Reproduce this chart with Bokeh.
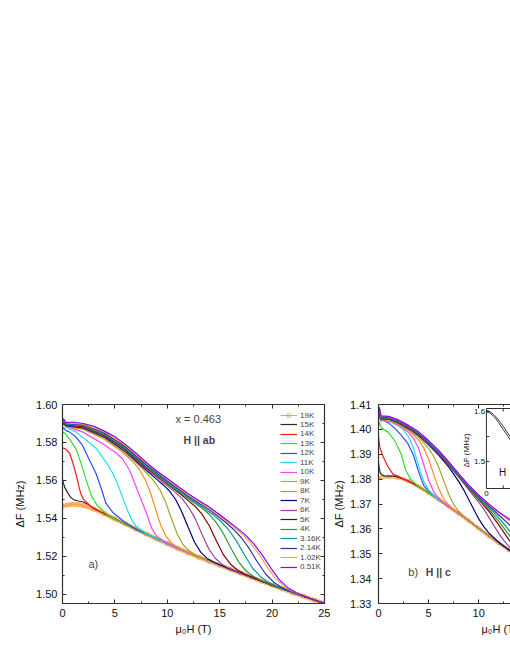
import math
from bokeh.plotting import figure
from bokeh.models import (Range1d, LinearAxis, FixedTicker, Legend, LegendItem, Label, Title,
                          NumeralTickFormatter, CustomJSTickFormatter)
from bokeh.layouts import row
from bokeh.embed import file_html
from bokeh.resources import INLINE
from bokeh.core.properties import value

FONT = "Liberation Sans"
INK = "#303030"

# ---------------- panel a) H || ab  (x = 0.463) ----------------
H_A_19K = [0, 0.5, 1, 1.5, 2, 3, 4, 5, 6, 7, 8, 9, 10, 11, 12, 13, 14, 15, 16, 17, 18, 19, 20, 21, 22, 23, 24, 25]
F_A_19K = [1.5465, 1.5471, 1.5475, 1.5473, 1.5468, 1.5450, 1.5425, 1.5398, 1.5372, 1.5345, 1.5318, 1.5292, 1.5268, 1.5243,
           1.5220, 1.5196, 1.5175, 1.5154, 1.5133, 1.5112, 1.5091, 1.5070, 1.5049, 1.5029, 1.5009, 1.4990, 1.4971, 1.4953]
H_A_15K = [0, 0.2, 0.5, 0.8, 1.1, 1.5, 2, 2.5, 3, 4, 5, 7.5, 10, 12.5, 15, 17.5, 20, 22.5, 25]
F_A_15K = [1.5605, 1.5565, 1.5535, 1.5510, 1.5498, 1.5492, 1.5487, 1.5472, 1.5452, 1.5425, 1.5398, 1.5331, 1.5268, 1.5208,
           1.5154, 1.5102, 1.5049, 1.5000, 1.4953]
H_A_14K = [0, 0.3, 0.67, 0.95, 1.2, 1.43, 1.6, 1.75, 2.0, 2.2, 2.6, 3, 3.5, 4, 5, 7.5, 10, 12.5, 15, 17.5, 20, 22.5, 25]
F_A_14K = [1.5772, 1.5765, 1.5745, 1.5700, 1.5650, 1.5603, 1.5560, 1.5530, 1.5502, 1.5490, 1.5470, 1.5453, 1.5438, 1.5425,
           1.5398, 1.5331, 1.5268, 1.5208, 1.5154, 1.5102, 1.5049, 1.5000, 1.4953]
H_A_13K = [0, 0.1, 0.3, 0.64, 1.3, 1.8, 2.3, 2.8, 3.3, 3.8, 4.3, 5, 7.5, 10, 12.5, 15, 17.5, 20, 22.5, 25]
F_A_13K = [1.5847, 1.5855, 1.5843, 1.5820, 1.5765, 1.5685, 1.5595, 1.5515, 1.5470, 1.5445, 1.5420, 1.5398, 1.5331, 1.5268,
           1.5208, 1.5154, 1.5102, 1.5049, 1.5000, 1.4953]
H_A_12K = [0, 0.1, 0.3, 0.64, 1.27, 1.9, 2.5, 3.2, 3.7, 4.15, 4.8, 5.4, 6, 7, 10, 12.5, 15, 17.5, 20, 22.5, 25]
F_A_12K = [1.5866, 1.5878, 1.5864, 1.5856, 1.5830, 1.5786, 1.5716, 1.5637, 1.5558, 1.5479, 1.5432, 1.5405, 1.5378, 1.5345,
           1.5268, 1.5208, 1.5154, 1.5102, 1.5049, 1.5000, 1.4953]
H_A_11K = [0, 0.1, 0.3, 1.27, 2.5, 3.2, 3.8, 4.3, 4.8, 5.2, 5.6, 6.2, 6.6, 7, 8, 10, 12.5, 15, 17.5, 20, 22.5, 25]
F_A_11K = [1.5885, 1.5897, 1.5882, 1.5856, 1.5803, 1.5770, 1.5724, 1.5685, 1.5637, 1.5590, 1.5532, 1.5444, 1.5395, 1.5360,
           1.5320, 1.5268, 1.5208, 1.5154, 1.5102, 1.5049, 1.5000, 1.4953]
H_A_10K = [0, 0.1, 0.3, 1.9, 3.8, 5.0, 5.7, 6.4, 7.0, 7.5, 8.0, 8.5, 9.0, 10, 12.5, 15, 17.5, 20, 22.5, 25]
F_A_10K = [1.5890, 1.5903, 1.5886, 1.5856, 1.5795, 1.5750, 1.5716, 1.5655, 1.5570, 1.5500, 1.5430, 1.5350, 1.5305, 1.5270,
           1.5208, 1.5154, 1.5102, 1.5049, 1.5000, 1.4953]
H_A_9K = [0, 0.1, 0.3, 2, 4, 5.5, 6.4, 6.9, 7.4, 7.9, 8.4, 8.9, 9.4, 9.9, 10.4, 10.9, 12.5, 15, 17.5, 20, 22.5, 25]
F_A_9K = [1.5887, 1.5905, 1.5885, 1.5869, 1.5817, 1.5759, 1.5716, 1.5688, 1.5653, 1.5604, 1.5535, 1.5445, 1.5360, 1.5304,
          1.5271, 1.5250, 1.5208, 1.5154, 1.5102, 1.5049, 1.5000, 1.4953]
H_A_8K = [0, 0.1, 0.3, 2, 4, 6, 7, 7.65, 8.2, 8.75, 9.3, 9.85, 10.4, 10.95, 11.5, 12.05, 12.6, 15, 17.5, 20, 22.5, 25]
F_A_8K = [1.5889, 1.5907, 1.5887, 1.5873, 1.5823, 1.5744, 1.5696, 1.5660, 1.5630, 1.5595, 1.5550, 1.5485, 1.5399, 1.5317,
          1.5263, 1.5231, 1.5210, 1.5154, 1.5102, 1.5049, 1.5000, 1.4953]
H_A_7K = [0, 0.1, 0.3, 2, 4, 6, 8, 9, 9.6, 10.2, 10.8, 11.4, 12, 12.6, 13.2, 13.8, 14.4, 16, 18, 20, 22.5, 25]
F_A_7K = [1.5891, 1.5909, 1.5889, 1.5877, 1.5829, 1.5752, 1.5654, 1.5606, 1.5578, 1.5545, 1.5500, 1.5433, 1.5353, 1.5275,
          1.5222, 1.5190, 1.5171, 1.5133, 1.5091, 1.5049, 1.5000, 1.4953]
H_A_6K = [0, 0.1, 0.3, 2, 4, 6, 8, 9.5, 10.8, 11.43, 12.05, 12.68, 13.3, 13.93, 14.55, 15.18, 15.8, 17.5, 20, 22.5, 25]
F_A_6K = [1.5894, 1.5912, 1.5892, 1.5881, 1.5834, 1.5759, 1.5661, 1.5594, 1.5536, 1.5503, 1.5458, 1.5398, 1.5318, 1.5243,
          1.5192, 1.5161, 1.5141, 1.5102, 1.5049, 1.5000, 1.4953]
H_A_5K = [0, 0.1, 0.3, 2, 4, 6, 8, 10, 11, 12, 12.68, 13.35, 14.03, 14.7, 15.38, 16.05, 16.73, 17.4, 20, 22.5, 25]
F_A_5K = [1.5896, 1.5914, 1.5894, 1.5884, 1.5838, 1.5764, 1.5667, 1.5581, 1.5539, 1.5494, 1.5463, 1.5420, 1.5359, 1.5280,
          1.5207, 1.5158, 1.5128, 1.5108, 1.5049, 1.5000, 1.4953]
H_A_4K = [0, 0.1, 0.3, 2, 4, 6, 8, 10, 12, 13.3, 14, 14.7, 15.4, 16.1, 16.8, 17.5, 18.2, 18.9, 21, 23, 25]
F_A_4K = [1.5898, 1.5916, 1.5896, 1.5887, 1.5843, 1.5769, 1.5672, 1.5586, 1.5504, 1.5455, 1.5422, 1.5377, 1.5316, 1.5241,
          1.5172, 1.5125, 1.5096, 1.5075, 1.5029, 1.4990, 1.4953]
H_A_316K = [0, 0.1, 0.3, 2, 4, 6, 8, 10, 12, 13, 14.4, 15.15, 15.9, 16.65, 17.4, 18.15, 18.9, 19.65, 20.4, 22.5, 25]
F_A_316K = [1.5900, 1.5918, 1.5898, 1.5890, 1.5847, 1.5774, 1.5677, 1.5591, 1.5510, 1.5474, 1.5419, 1.5383, 1.5337, 1.5277,
            1.5205, 1.5138, 1.5093, 1.5064, 1.5044, 1.5000, 1.4953]
H_A_214K = [0, 0.1, 0.3, 2, 4, 6, 8, 10, 12, 14, 15.5, 16.28, 17.05, 17.83, 18.6, 19.38, 20.15, 20.93, 21.7, 23, 25]
F_A_214K = [1.5903, 1.5921, 1.5901, 1.5893, 1.5851, 1.5779, 1.5683, 1.5597, 1.5517, 1.5446, 1.5383, 1.5345, 1.5300, 1.5241,
            1.5171, 1.5108, 1.5065, 1.5037, 1.5017, 1.4990, 1.4953]
H_A_102K = [0, 0.1, 0.3, 2, 4, 6, 8, 10, 12, 14, 16.3, 17.1, 17.9, 18.7, 19.5, 20.3, 21.1, 21.9, 22.7, 24, 25]
F_A_102K = [1.5905, 1.5923, 1.5903, 1.5897, 1.5856, 1.5785, 1.5690, 1.5605, 1.5525, 1.5454, 1.5358, 1.5320, 1.5275, 1.5216,
            1.5148, 1.5086, 1.5044, 1.5017, 1.4998, 1.4971, 1.4953]
H_A_051K = [0, 0.1, 0.3, 1, 2, 3, 4, 5, 6, 7, 8, 9, 10, 11, 12, 13, 14, 15, 16, 16.7, 17.5, 18.3, 19.1, 19.9, 20.7, 21.5,
            22.3, 23.1, 24, 25]
F_A_051K = [1.5907, 1.5925, 1.5905, 1.5908, 1.5900, 1.5885, 1.5860, 1.5830, 1.5790, 1.5745, 1.5695, 1.5650, 1.5610, 1.5570,
            1.5530, 1.5495, 1.5460, 1.5420, 1.5378, 1.5348, 1.5311, 1.5264, 1.5205, 1.5138, 1.5077, 1.5036, 1.5009, 1.4990,
            1.4971, 1.4953]

# ---------------- panel b) H || c ----------------
H_B_19K = [0, 1, 2, 3, 4, 5, 6, 7, 8, 9, 10, 11, 12, 13, 14]
F_B_19K = [1.3805, 1.3810, 1.3806, 1.3792, 1.3770, 1.3745, 1.3718, 1.3690, 1.3662, 1.3633, 1.3602, 1.3572, 1.3543, 1.3515, 1.3490]
H_B_15K = [0, 0.05, 0.15, 0.3, 0.6, 1, 1.5, 2, 2.5, 3, 4, 5, 6, 7, 8, 9, 10, 11, 12, 13, 14]
F_B_15K = [1.3868, 1.3850, 1.3828, 1.3817, 1.3813, 1.3812, 1.3812, 1.3808, 1.3800, 1.3792, 1.3770, 1.3745, 1.3718, 1.3690,
           1.3662, 1.3633, 1.3602, 1.3572, 1.3543, 1.3515, 1.3490]
H_B_14K = [0, 0.16, 0.48, 0.96, 1.44, 1.92, 2.4, 3, 4, 5, 6, 7, 8, 9, 10, 11, 12, 13, 14]
F_B_14K = [1.3969, 1.3923, 1.3889, 1.3849, 1.3820, 1.3812, 1.3802, 1.3792, 1.3770, 1.3745, 1.3718, 1.3690, 1.3662, 1.3633,
           1.3602, 1.3572, 1.3543, 1.3515, 1.3490]
H_B_13K = [0, 0.08, 0.3, 0.96, 1.6, 2.24, 2.72, 3.2, 3.6, 4, 5, 6, 7, 8, 9, 10, 11, 12, 13, 14]
F_B_13K = [1.4009, 1.4030, 1.4005, 1.3989, 1.3956, 1.3903, 1.3836, 1.3800, 1.3785, 1.3771, 1.3745, 1.3718, 1.3690, 1.3662,
           1.3633, 1.3602, 1.3572, 1.3543, 1.3515, 1.3490]
H_B_12K = [0, 0.08, 0.25, 0.5, 1, 1.6, 2.2, 2.9, 3.5, 4, 4.5, 5, 6, 7, 8, 9, 10, 11, 12, 13, 14]
F_B_12K = [1.4038, 1.4050, 1.4034, 1.4036, 1.4026, 1.4005, 1.3980, 1.3945, 1.3895, 1.3830, 1.3775, 1.3752, 1.3718, 1.3690,
           1.3662, 1.3633, 1.3602, 1.3572, 1.3543, 1.3515, 1.3490]
H_B_11K = [0, 0.08, 0.25, 1, 1.5, 2, 2.5, 3, 3.5, 4, 4.5, 5, 5.5, 6, 7, 8, 9, 10, 11, 12, 13, 14]
F_B_11K = [1.4040, 1.4055, 1.4036, 1.4034, 1.4024, 1.4014, 1.3997, 1.3971, 1.3923, 1.3853, 1.3791, 1.3756, 1.3735, 1.3718,
           1.3690, 1.3662, 1.3633, 1.3602, 1.3572, 1.3543, 1.3515, 1.3490]
H_B_10K = [0, 0.08, 0.25, 1, 2, 2.5, 3, 3.5, 4, 4.5, 5, 5.5, 6, 6.5, 7, 8, 9, 10, 11, 12, 13, 14]
F_B_10K = [1.4042, 1.4058, 1.4038, 1.4035, 1.4017, 1.4003, 1.3987, 1.3963, 1.3924, 1.3861, 1.3795, 1.3750, 1.3724, 1.3706,
           1.3690, 1.3662, 1.3633, 1.3602, 1.3572, 1.3543, 1.3515, 1.3490]
H_B_9K = [0, 0.08, 0.25, 1, 2, 2.5, 3, 3.5, 4, 4.5, 5, 5.5, 6, 6.5, 7, 7.5, 8, 9, 10, 11, 12, 13, 14]
F_B_9K = [1.4043, 1.4060, 1.4039, 1.4037, 1.4020, 1.4007, 1.3994, 1.3977, 1.3958, 1.3926, 1.3881, 1.3820, 1.3762, 1.3721,
          1.3696, 1.3678, 1.3662, 1.3633, 1.3602, 1.3572, 1.3543, 1.3515, 1.3490]
H_B_8K = [0, 0.08, 0.25, 1, 2, 3, 4, 4.5, 5, 5.5, 6, 6.5, 7, 7.5, 8, 8.5, 9, 10, 11, 12, 13, 14]
F_B_8K = [1.4044, 1.4062, 1.4040, 1.4039, 1.4022, 1.3998, 1.3968, 1.3947, 1.3924, 1.3892, 1.3849, 1.3794, 1.3740, 1.3698,
          1.3671, 1.3651, 1.3634, 1.3602, 1.3572, 1.3543, 1.3515, 1.3490]
H_B_7K = [0, 0.08, 0.25, 1, 2, 3, 4, 5, 6, 7, 8, 8.5, 9, 9.5, 10, 10.5, 11, 12, 13, 14]
F_B_7K = [1.4045, 1.4065, 1.4041, 1.4042, 1.4026, 1.4003, 1.3975, 1.3938, 1.3897, 1.3849, 1.3791, 1.3757, 1.3718, 1.3679,
          1.3640, 1.3609, 1.3584, 1.3546, 1.3516, 1.3490]
H_B_6K = [0, 0.08, 0.25, 1, 2, 3, 4, 5, 6, 7, 8, 9, 10, 10.5, 11, 11.5, 12, 12.5, 13, 14]
F_B_6K = [1.4046, 1.4068, 1.4042, 1.4043, 1.4028, 1.4005, 1.3978, 1.3942, 1.3902, 1.3856, 1.3808, 1.3758, 1.3707, 1.3679,
          1.3647, 1.3614, 1.3582, 1.3554, 1.3530, 1.3495]
H_B_5K = [0, 0.08, 0.25, 1, 2, 3, 4, 5, 6, 7, 8, 9, 10, 11, 12, 13, 14]
F_B_5K = [1.4048, 1.4072, 1.4044, 1.4045, 1.4030, 1.4007, 1.3980, 1.3945, 1.3904, 1.3859, 1.3811, 1.3764, 1.3718, 1.3671,
          1.3616, 1.3557, 1.3508]
H_B_4K = [0, 0.08, 0.25, 1, 2, 3, 4, 5, 6, 7, 8, 9, 10, 11, 12, 13, 14]
F_B_4K = [1.4049, 1.4075, 1.4045, 1.4046, 1.4032, 1.4009, 1.3982, 1.3947, 1.3906, 1.3861, 1.3813, 1.3766, 1.3722, 1.3679,
          1.3631, 1.3577, 1.3524]
H_B_316K = [0, 0.08, 0.25, 1, 2, 3, 4, 5, 6, 7, 8, 9, 10, 11, 12, 13, 14]
F_B_316K = [1.4050, 1.4078, 1.4046, 1.4048, 1.4033, 1.4011, 1.3984, 1.3949, 1.3909, 1.3864, 1.3815, 1.3769, 1.3726, 1.3687,
            1.3644, 1.3596, 1.3542]
H_B_214K = [0, 0.08, 0.25, 1, 2, 3, 4, 5, 6, 7, 8, 9, 10, 11, 12, 13, 14]
F_B_214K = [1.4052, 1.4082, 1.4048, 1.4049, 1.4035, 1.4012, 1.3986, 1.3951, 1.3911, 1.3866, 1.3818, 1.3771, 1.3730, 1.3693,
            1.3656, 1.3619, 1.3576]
H_B_102K = [0, 0.08, 0.25, 1, 2, 3, 4, 5, 6, 7, 8, 9, 10, 11, 12, 13, 14]
F_B_102K = [1.4055, 1.4085, 1.4052, 1.4051, 1.4037, 1.4015, 1.3989, 1.3954, 1.3914, 1.3869, 1.3821, 1.3775, 1.3734, 1.3698,
            1.3666, 1.3636, 1.3605]
H_B_051K = [0, 0.08, 0.25, 1, 2, 3, 4, 5, 6, 7, 8, 9, 10, 11, 12, 13, 14]
F_B_051K = [1.4056, 1.4090, 1.4054, 1.4052, 1.4038, 1.4016, 1.3990, 1.3955, 1.3915, 1.3870, 1.3822, 1.3776, 1.3735, 1.3700,
            1.3668, 1.3641, 1.3615]

# inset of panel b
INSET_H = [0, 1, 2, 3, 4, 5, 6, 7, 8, 9, 10, 11]
INSET_F1 = [1.602, 1.601, 1.598, 1.594, 1.589, 1.583, 1.577, 1.570, 1.563, 1.556, 1.549, 1.542]
INSET_F2 = [1.599, 1.598, 1.595, 1.590, 1.585, 1.578, 1.571, 1.564, 1.557, 1.550, 1.543, 1.536]
INSET_BOX_X = (0, 30)
INSET_BOX_Y = (1.446, 1.606)
INSET_Y_TICKS = [1.5, 1.55, 1.6]
INSET_Y_LABELS = ["1.5", "1.6"]
INSET_X_TICKS = [7]

# ticks
X_TICKS = [0, 5, 10, 15, 20, 25]
X_MINOR = [2.5, 7.5, 12.5, 17.5, 22.5]
A_Y_TICKS = [1.50, 1.52, 1.54, 1.56, 1.58, 1.60]
A_Y_MINOR = [1.51, 1.53, 1.55, 1.57, 1.59]
B_Y_TICKS = [1.33, 1.34, 1.35, 1.36, 1.37, 1.38, 1.39, 1.40, 1.41]

TEMPS = ["19K", "15K", "14K", "13K", "12K", "11K", "10K", "9K", "8K", "7K", "6K", "5K", "4K",
         "3.16K", "2.14K", "1.02K", "0.51K"]
A_DATA = [(H_A_19K, F_A_19K), (H_A_15K, F_A_15K), (H_A_14K, F_A_14K), (H_A_13K, F_A_13K), (H_A_12K, F_A_12K),
          (H_A_11K, F_A_11K), (H_A_10K, F_A_10K), (H_A_9K, F_A_9K), (H_A_8K, F_A_8K), (H_A_7K, F_A_7K),
          (H_A_6K, F_A_6K), (H_A_5K, F_A_5K), (H_A_4K, F_A_4K), (H_A_316K, F_A_316K), (H_A_214K, F_A_214K),
          (H_A_102K, F_A_102K), (H_A_051K, F_A_051K)]
B_DATA = [(H_B_19K, F_B_19K), (H_B_15K, F_B_15K), (H_B_14K, F_B_14K), (H_B_13K, F_B_13K), (H_B_12K, F_B_12K),
          (H_B_11K, F_B_11K), (H_B_10K, F_B_10K), (H_B_9K, F_B_9K), (H_B_8K, F_B_8K), (H_B_7K, F_B_7K),
          (H_B_6K, F_B_6K), (H_B_5K, F_B_5K), (H_B_4K, F_B_4K), (H_B_316K, F_B_316K), (H_B_214K, F_B_214K),
          (H_B_102K, F_B_102K), (H_B_051K, F_B_051K)]

COLORS = {"19K": "#FFB870", "15K": "#2B2B2B", "14K": "#FF1A1A", "13K": "#33DD33", "12K": "#2A4BFF",
          "11K": "#1FE0F0", "10K": "#FF40FF", "9K": "#FF8A1F", "8K": "#A3A32E", "7K": "#000080",
          "6K": "#A040A0", "5K": "#800000", "4K": "#2E9A2E", "3.16K": "#009A9A", "2.14K": "#32329A",
          "1.02K": "#FF9F40", "0.51K": "#8A00FF"}
MARKER_EDGE = "#F2A050"

# legend rows: pitch and first-row offset in pixels (layout, not data)
LEGEND_X = 218
LEGEND_PITCH = 9.48
LEGEND_FIRST = 183.5


def style_axis(ax, labels=True):
    ax.axis_line_color = INK
    ax.axis_line_width = 1.2
    ax.major_tick_line_color = INK
    ax.minor_tick_line_color = INK
    ax.major_tick_in = 4
    ax.major_tick_out = 0
    ax.minor_tick_in = 2
    ax.minor_tick_out = 0
    ax.major_label_text_font = FONT
    ax.major_label_text_font_size = "11px"
    ax.major_label_text_color = "#111111"
    ax.axis_label_text_font = FONT
    ax.axis_label_text_font_size = "11px"
    ax.axis_label_text_font_style = "normal"
    ax.axis_label_text_color = "#111111"
    if not labels:
        ax.formatter = CustomJSTickFormatter(code="return ''")
        ax.major_label_standoff = 0


def base_fig(width, xr, yr, left, right):
    p = figure(width=width, height=648, x_range=xr, y_range=yr, output_backend="svg",
               toolbar_location=None, x_axis_location=None, y_axis_location=None,
               min_border_left=left, min_border_right=right, min_border_top=404, min_border_bottom=45)
    p.outline_line_color = None
    p.grid.visible = False
    p.background_fill_color = "white"
    p.border_fill_color = "white"
    return p


# ---------------- figure a ----------------
p1 = base_fig(330, Range1d(0, 25), Range1d(1.49526, 1.60), 62, 6)

ax = LinearAxis(ticker=FixedTicker(ticks=A_Y_TICKS, minor_ticks=A_Y_MINOR),
                formatter=NumeralTickFormatter(format="0.00"), axis_label="ΔF (MHz)",
                major_label_standoff=5, axis_label_standoff=7)
style_axis(ax)
p1.add_layout(ax, "left")
ax = LinearAxis(ticker=FixedTicker(ticks=A_Y_TICKS, minor_ticks=A_Y_MINOR))
style_axis(ax, labels=False)
p1.add_layout(ax, "right")
ax = LinearAxis(ticker=FixedTicker(ticks=X_TICKS, minor_ticks=X_MINOR), axis_label="μ₀H (T)",
                major_label_standoff=5, axis_label_standoff=3)
style_axis(ax)
p1.add_layout(ax, "below")
ax = LinearAxis(ticker=FixedTicker(ticks=X_TICKS, minor_ticks=X_MINOR))
style_axis(ax, labels=False)
p1.add_layout(ax, "above")

items = []
for t, (hh, ff) in zip(TEMPS, A_DATA):
    if t == "19K":
        p1.line(hh, ff, line_color=COLORS[t], line_width=4.5, line_alpha=0.95)
        r1 = p1.line(hh, ff, line_color=MARKER_EDGE, line_width=1)
        r2 = p1.scatter(hh, ff, marker="square", size=3.5, line_color=MARKER_EDGE, fill_color=None, line_width=0.8)
        items.append(LegendItem(label=t, renderers=[r1, r2]))
    else:
        r = p1.line(hh, ff, line_color=COLORS[t], line_width=1.2)
        items.append(LegendItem(label=t, renderers=[r]))

# one legend row per entry so the row pitch can match the original exactly
for i, item in enumerate(items):
    lg = Legend(items=[item], location=(LEGEND_X, LEGEND_FIRST - i * LEGEND_PITCH), label_text_font=FONT,
                label_text_font_size="8px", glyph_width=17, glyph_height=8, label_height=8, spacing=0,
                padding=0, margin=0, label_standoff=3, background_fill_alpha=0, border_line_alpha=0)
    p1.add_layout(lg)

p1.add_layout(Label(x=10.78, y=1.5923, text="x = 0.463", text_font=FONT, text_font_size="11px",
                    text_baseline="middle", text_align="left"))
p1.add_layout(Label(x=11.55, y=1.5812, text="H || ab", text_font=FONT, text_font_size="10.5px",
                    text_font_style="bold", text_baseline="middle", text_align="left"))
p1.add_layout(Label(x=2.48, y=1.5159, text="a)", text_font=FONT, text_font_size="11px",
                    text_baseline="middle", text_align="left"))

# ---------------- figure b ----------------
p2 = base_fig(180, Range1d(0, 13.17), Range1d(1.33, 1.41), 43, 0)
ax = LinearAxis(ticker=FixedTicker(ticks=B_Y_TICKS), formatter=NumeralTickFormatter(format="0.00"),
                axis_label="ΔF (MHz)", major_label_standoff=7, axis_label_standoff=2)
style_axis(ax)
p2.add_layout(ax, "left")
ax = LinearAxis(ticker=FixedTicker(ticks=X_TICKS, minor_ticks=X_MINOR), major_label_standoff=5)
style_axis(ax)
p2.add_layout(ax, "below")
ax = LinearAxis(ticker=FixedTicker(ticks=X_TICKS, minor_ticks=X_MINOR))
style_axis(ax, labels=False)
p2.add_layout(ax, "above")
# x-axis title of panel b: its frame runs past the page edge, so the label sits off-centre to the right
p2.add_layout(Title(text="μ₀H (T)", align="left", offset=103, standoff=2, text_font=FONT,
                    text_font_size="11px", text_font_style="normal", text_color="#111111"), "below")

for t, (hh, ff) in zip(TEMPS, B_DATA):
    if t == "19K":
        p2.line(hh, ff, line_color=COLORS[t], line_width=3.5, line_alpha=0.95)
        p2.scatter(hh, ff, marker="square", size=3.0, line_color=MARKER_EDGE, fill_color=None, line_width=0.7)
    else:
        p2.line(hh, ff, line_color=COLORS[t], line_width=1.2)

p2.add_layout(Label(x=2.98, y=1.3426, text="b)", text_font=FONT, text_font_size="11px",
                    text_baseline="middle", text_align="left"))
p2.add_layout(Label(x=4.71, y=1.3426, text="H || c", text_font=FONT, text_font_size="10.5px",
                    text_font_style="bold", text_baseline="middle", text_align="left"))

# inset (own scales through extra ranges)
p2.extra_x_ranges = {"ix": Range1d(-44.8, 10)}
p2.extra_y_ranges = {"iy": Range1d(1.216, 1.614)}
IR = dict(x_range_name="ix", y_range_name="iy")
p2.quad(left=[INSET_BOX_X[0]], right=[INSET_BOX_X[1]], bottom=[INSET_BOX_Y[0]], top=[INSET_BOX_Y[1]],
        fill_color="white", line_color=INK, line_width=1, **IR)
p2.line(INSET_H, INSET_F1, line_color="#222222", line_width=0.9, **IR)
p2.line(INSET_H, INSET_F2, line_color="#222222", line_width=0.9, **IR)
p2.segment(x0=[0] * len(INSET_Y_TICKS), x1=[1.2] * len(INSET_Y_TICKS), y0=INSET_Y_TICKS, y1=INSET_Y_TICKS,
           line_color=INK, line_width=1, **IR)
p2.segment(x0=INSET_X_TICKS + INSET_X_TICKS, x1=INSET_X_TICKS + INSET_X_TICKS,
           y0=[INSET_BOX_Y[1], INSET_BOX_Y[0]], y1=[INSET_BOX_Y[1] - 0.006, INSET_BOX_Y[0] + 0.006],
           line_color=INK, line_width=1, **IR)
p2.text(x=[-0.5, -0.5], y=[1.5, 1.6], text=INSET_Y_LABELS, text_font=value(FONT), text_font_size=value("8px"),
        text_align="right", text_baseline="middle", text_color="#111111", **IR)
p2.text(x=[0], y=[1.436], text=["0"], text_font=value(FONT), text_font_size=value("8px"),
        text_align="center", text_baseline="middle", text_color="#111111", **IR)
p2.text(x=[-8.4], y=[1.522], text=["ΔF (MHz)"], angle=math.pi / 2, text_font=value(FONT),
        text_font_size=value("8px"), text_align="center", text_baseline="middle", text_color="#111111", **IR)
p2.text(x=[5.2], y=[1.478], text=["H"], text_font=value(FONT), text_font_size=value("10px"),
        text_align="left", text_baseline="middle", text_color="#111111", **IR)

layout = row(p1, p2)
open("out.html", "w").write(file_html(layout, INLINE))
